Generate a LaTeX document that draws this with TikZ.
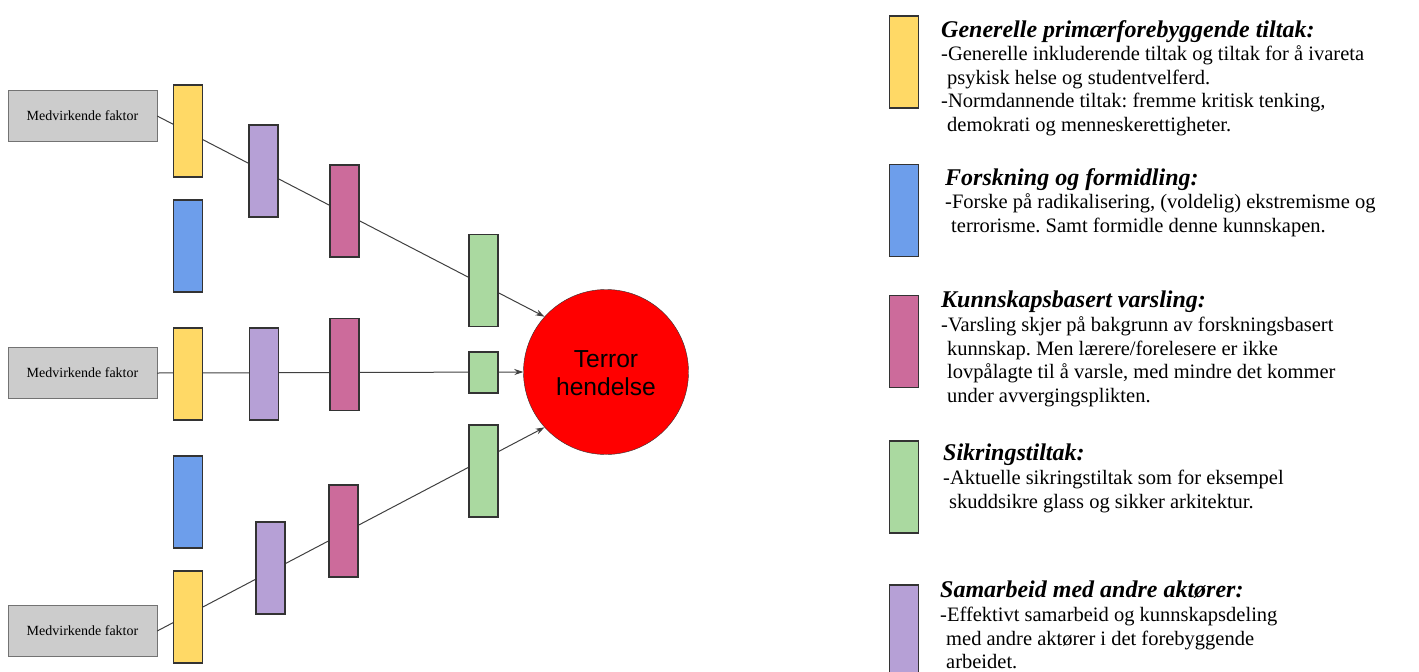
\documentclass[tikz,border=0pt]{standalone}
\usepackage{fontspec}
\setmainfont{Liberation Serif}
\newfontfamily\arialfont{Liberation Sans}
\usetikzlibrary{arrows.meta}
\definecolor{gulfarge}{HTML}{FFD966}
\definecolor{blafarge}{HTML}{6D9EEB}
\definecolor{rosafarge}{HTML}{CC6B9B}
\definecolor{gronnfarge}{HTML}{AAD9A0}
\definecolor{lillafarge}{HTML}{B6A0D6}
\definecolor{graafarge}{HTML}{CCCCCC}
\newcommand{\titel}{\fontsize{24}{28}\selectfont\bfseries\itshape}
\newcommand{\inn}{\hspace*{6pt}}
\frenchspacing
\begin{document}
\begin{tikzpicture}[x=1pt,y=-1pt]
        \tikzstyle{tiltak}=[rectangle,draw=black!80,line width=1.2pt,minimum width=29pt,minimum height=92pt,inner sep=0pt]
        \tikzstyle{faktor}=[rectangle,draw=black!55,fill=graafarge,minimum width=149pt,minimum height=51pt,font=\fontsize{14}{16}\selectfont]
        \tikzstyle{edge}=[draw, line width=1pt, draw=black!75, -{Stealth[length=9pt,width=6pt]}]
        \tikzstyle{legend}=[anchor=north west,align=left,inner sep=0pt,font=\fontsize{20.5}{23.6}\selectfont]
        \useasboundingbox (0,0) rectangle (1419,672);
        \begin{scope}
                \node [faktor] (f1) at (82.5,116) {Medvirkende faktor};
                \node [faktor] (f2) at (82.5,373) {Medvirkende faktor};
                \node [faktor] (f3) at (82.5,631) {Medvirkende faktor};
                \node [circle,draw=black!80,fill=red,minimum size=165pt,inner sep=0pt,align=center,font=\arialfont\fontsize{24.6}{28}\selectfont] (terror) at (606,372) {\strut Terror\\hendelse};
                % linjene ligger under tiltakene
                \path[edge] (f1.east) -- (terror.138);
                \path[edge] (f2.east) -- (terror.west);
                \path[edge] (f3.east) -- (terror.222);
                % tiltak langs linjene
                \node [tiltak,fill=gulfarge] (y1) at (188,131) {};
                \node [tiltak,fill=blafarge] (b1) at (188,246) {};
                \node [tiltak,fill=lillafarge] (p1) at (263.5,171) {};
                \node [tiltak,fill=rosafarge] (k1) at (344.5,211) {};
                \node [tiltak,fill=gronnfarge] (s1) at (483.5,280.5) {};
                \node [tiltak,fill=gulfarge] (y2) at (188,374) {};
                \node [tiltak,fill=lillafarge] (p2) at (264,374) {};
                \node [tiltak,fill=rosafarge] (k2) at (344.5,364.5) {};
                \node [tiltak,fill=gronnfarge,minimum height=41pt] (s2) at (483.5,372.5) {};
                \node [tiltak,fill=blafarge] (b2) at (188,502) {};
                \node [tiltak,fill=gulfarge] (y3) at (188,617) {};
                \node [tiltak,fill=lillafarge] (p3) at (270.5,568) {};
                \node [tiltak,fill=rosafarge] (k3) at (343.5,531) {};
                \node [tiltak,fill=gronnfarge] (s3) at (483.5,471) {};
        \end{scope}
        \begin{scope}
                % forklaring
                \node [tiltak,fill=gulfarge] (ly) at (904,62) {};
                \node [tiltak,fill=blafarge] (lb) at (904,210.5) {};
                \node [tiltak,fill=rosafarge] (lk) at (904,341.5) {};
                \node [tiltak,fill=gronnfarge] (ls) at (904,487) {};
                \node [tiltak,fill=lillafarge] (lp) at (904,631) {};
                \node [legend] (ty) at (941,20) {{\titel Generelle primærforebyggende tiltak:}\\-Generelle inkluderende tiltak og tiltak for å ivareta\\\inn psykisk helse og studentvelferd.\\-Normdannende tiltak: fremme kritisk tenking,\\\inn demokrati og menneskerettigheter.};
                \node [legend] (tb) at (945,168) {{\titel Forskning og formidling:}\\-Forske på radikalisering, (voldelig) ekstremisme og\\\inn terrorisme. Samt formidle denne kunnskapen.};
                \node [legend] (tk) at (941,291) {{\titel Kunnskapsbasert varsling:}\\-Varsling skjer på bakgrunn av forskningsbasert\\\inn kunnskap. Men lærere/forelesere er ikke\\\inn lovpålagte til å varsle, med mindre det kommer\\\inn under avvergingsplikten.};
                \node [legend] (ts) at (943,444) {{\titel Sikringstiltak:}\\-Aktuelle sikringstiltak som for eksempel\\\inn skuddsikre glass og sikker arkitektur.};
                \node [legend] (tp) at (940,581) {{\titel Samarbeid med andre aktører:}\\-Effektivt samarbeid og kunnskapsdeling\\\inn med andre aktører i det forebyggende\\\inn arbeidet.};
        \end{scope}
\end{tikzpicture}
\end{document}
